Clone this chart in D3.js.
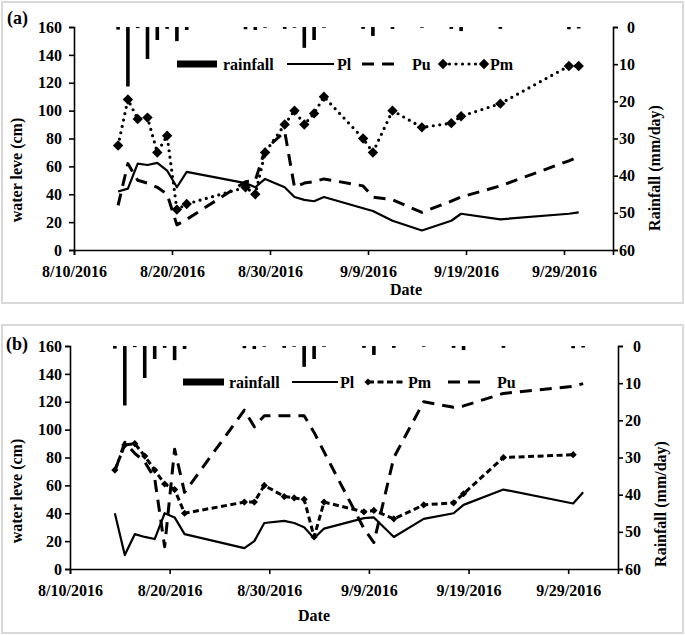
<!DOCTYPE html>
<html><head><meta charset="utf-8">
<script src="https://cdn.jsdelivr.net/npm/d3@7"></script>
<style>
html,body{margin:0;padding:0;background:#fff;}
svg text{font-family:"Liberation Serif","Times New Roman",serif;font-weight:bold;fill:#000;}
</style></head>
<body>
<svg id="chart" width="685" height="635"></svg>
<script>
// ---------------- DATA ----------------
const dates = ["8/14/2016","8/15/2016","8/16/2016","8/17/2016","8/18/2016","8/19/2016","8/20/2016","8/21/2016",
  "8/27/2016","8/28/2016","8/29/2016","8/31/2016","9/1/2016","9/2/2016","9/3/2016","9/4/2016",
  "9/8/2016","9/9/2016","9/11/2016","9/14/2016","9/17/2016","9/18/2016","9/22/2016","9/29/2016","9/30/2016"];
const rainfall = [0.7,16,0.3,8.6,3.5,0.5,3.8,0.8, 0.6,0.8,0.2,0.5,0.2,5.6,3.5,0.2, 0.5,2.4,0.5,0.2,0.5,1.1,0.5,0.6,0.4];

// panel (a)
const plA = [42,44,62,61,62.5,57,45,56, 48,45,51,45,38,36,35,38, 30,28,21,14,21,26,22,26,27];
const puA = [32,62,50,48,45,40,18,22, 49,50,72,85,45,48,49,51, 46,38,36,27,35,38,46,64,67];
const pmA = [75,108,94,95,70,82,29,33, 45,40,70,90,100,90,98,110, 80,70,100,88,91,96,105,132,132];

// panel (b)
const plB = [40,10,25,23,21.5,40,37,25, 15,20,33,34.5,33,30,22,29, 36.5,37,23,36,40,46,57,47,55];
const pmB = [71,89,90,81,71,61,57,40, 48,48,60,52,51,50,23,48, 41,42,36,46,47.5,54,80,82,null];
const puB = [70,91,83,77,65,16,86,55, 114,102,110,110,110,110,98,84, 29,19,80,120,116,117,126,131,133];

const xTickLabels = ["8/10/2016","8/20/2016","8/30/2016","9/9/2016","9/19/2016","9/29/2016"];
const xDomain = ["8/10/2016","10/4/2016"];
const yLeftTicks = [0,20,40,60,80,100,120,140,160];
const yRightTicks = [0,10,20,30,40,50,60];

// ---------------- DRAW ----------------
const parse = d3.timeParse("%m/%d/%Y");
const svg = d3.select("#chart");
svg.append("rect").attr("width",685).attr("height",635).attr("fill","#fff");

function diamond(r){ return `M0,${-r}L${r},0L0,${r}L${-r},0Z`; }

const styles = {
  Pl: {dash:null, width:2.2, marker:0},
  Pu: {dash:"12,8", width:3, marker:0},
  PmA:{dash:"0,6.5", width:3.2, marker:5.2, cap:"round"},
  PmB:{dash:"6,3.5", width:3, marker:3.6}
};

function drawPanel(p){
  const g = svg.append("g");
  // frame
  g.append("rect").attr("x",p.frame[0]).attr("y",p.frame[1]).attr("width",p.frame[2]).attr("height",p.frame[3])
    .attr("fill","none").attr("stroke","#d9d9d9").attr("stroke-width",2);
  g.append("text").attr("x",p.labelPos[0]).attr("y",p.labelPos[1]).style("font-size","18px").text(p.label);

  const x = d3.scaleTime().domain(xDomain.map(parse)).range([p.left,p.right]);
  const y = d3.scaleLinear().domain([0,160]).range([p.bottom,p.top]);
  const yR = d3.scaleLinear().domain([0,60]).range([p.top,p.bottom]);
  const xc = s => x(d3.timeHour.offset(parse(s),12));

  // rainfall bars
  g.append("g").selectAll("rect").data(dates.map((d,i)=>({d,v:rainfall[i]}))).join("rect")
    .attr("x",d=>xc(d.d)-1.8).attr("width",3.6)
    .attr("y",yR(0)).attr("height",d=>yR(d.v)-yR(0)).attr("fill","#000");

  // axes
  const axL = d3.axisLeft(y).tickValues(yLeftTicks).tickSize(5).tickPadding(p.padL);
  const axR = d3.axisRight(yR).tickValues(yRightTicks).tickSize(5).tickPadding(3);
  const axB = d3.axisBottom(x).tickValues(xTickLabels.map(parse)).tickSize(5).tickPadding(8)
     .tickFormat((d,i)=>xTickLabels[i]);
  const gl = g.append("g").attr("transform",`translate(${p.left},0)`).call(axL);
  const gr = g.append("g").attr("transform",`translate(${p.right},0)`).call(axR);
  const gb = g.append("g").attr("transform",`translate(0,${p.bottom})`).call(axB);
  [gl,gr,gb].forEach(a=>{
    a.select(".domain").attr("stroke","#000").attr("stroke-width",1.6);
    a.selectAll(".tick line").attr("stroke","#000").attr("stroke-width",1.6);
    a.selectAll("text").style("font-size","16px").attr("font-family",null);
  });
  gr.selectAll(".tick text").attr("text-anchor","end").attr("x",p.rightLabelEnd - p.right);
  gb.selectAll(".tick text").attr("dy","0.9em");

  // axis titles
  g.append("text").attr("x",p.dateX).attr("y",p.dateY).attr("text-anchor","middle").style("font-size","16px").text("Date");
  g.append("text").attr("transform",`translate(${p.leftTitleX},${p.leftTitleY}) rotate(-90)`)
    .attr("text-anchor","middle").style("font-size","16px").text("water leve (cm)");
  g.append("text").attr("transform",`translate(${p.rightTitleX},${p.rightTitleY}) rotate(-90)`)
    .attr("text-anchor","middle").style("font-size","16px").text("Rainfall (mm/day)");

  // series
  p.series.forEach(s=>{
    const st = styles[s.style];
    const pts = dates.map((d,i)=>({d,v:s.values[i]})).filter(o=>o.v!=null);
    const line = d3.line().x(o=>xc(o.d)).y(o=>y(o.v));
    g.append("path").attr("d",line(pts)).attr("fill","none").attr("stroke","#000")
      .attr("stroke-width",st.width).attr("stroke-dasharray",st.dash)
      .attr("stroke-linecap",st.cap||"butt").attr("stroke-linejoin","round");
    if(st.marker){
      g.append("g").selectAll("path").data(pts).join("path")
        .attr("d",diamond(st.marker)).attr("transform",o=>`translate(${xc(o.d)},${y(o.v)})`).attr("fill","#000");
    }
  });

  // legend
  const L = p.legend;
  g.append("rect").attr("x",L.rain[0]).attr("y",L.y-3.5).attr("width",L.rain[1]-L.rain[0]).attr("height",7).attr("fill","#000");
  g.append("text").attr("x",L.rain[2]).attr("y",L.y+6).style("font-size","16px").text("rainfall");
  L.items.forEach(it=>{
    const st = styles[it.style];
    g.append("line").attr("x1",it.x1).attr("x2",it.x2).attr("y1",L.y).attr("y2",L.y)
      .attr("stroke","#000").attr("stroke-width",st.width).attr("stroke-dasharray",st.dash)
      .attr("stroke-linecap",st.cap||"butt");
    (it.markers||[]).forEach(mx=>{
      g.append("path").attr("d",diamond(st.marker)).attr("transform",`translate(${mx},${L.y})`).attr("fill","#000");
    });
    g.append("text").attr("x",it.tx).attr("y",L.y+6).style("font-size","16px").text(it.name);
  });
}

drawPanel({
  frame:[2,2,681,301], label:"(a)", labelPos:[7,24],
  left:74,right:613,top:27,bottom:250, padL:7, rightLabelEnd:635,
  dateX:406, dateY:295, leftTitleX:22, leftTitleY:170, rightTitleX:660, rightTitleY:168,
  series:[{style:"Pl",values:plA},{style:"Pu",values:puA},{style:"PmA",values:pmA}],
  legend:{y:64, rain:[177,217,223], items:[
    {name:"Pl",style:"Pl",x1:287,x2:334,tx:337},
    {name:"Pu",style:"Pu",x1:362,x2:400,tx:412},
    {name:"Pm",style:"PmA",x1:443,x2:484,tx:490,markers:[443,484]}
  ]}
});

drawPanel({
  frame:[2,325,681,308], label:"(b)", labelPos:[6,350],
  left:70,right:618,top:346,bottom:569, padL:3, rightLabelEnd:641,
  dateX:314, dateY:621, leftTitleX:22, leftTitleY:491, rightTitleX:666, rightTitleY:504,
  series:[{style:"Pl",values:plB},{style:"PmB",values:pmB},{style:"Pu",values:puB}],
  legend:{y:382, rain:[183,224,229], items:[
    {name:"Pl",style:"Pl",x1:292,x2:338,tx:340},
    {name:"Pm",style:"PmB",x1:368,x2:406,tx:408,markers:[368]},
    {name:"Pu",style:"Pu",x1:448,x2:486,tx:497}
  ]}
});
</script>
</body></html>
